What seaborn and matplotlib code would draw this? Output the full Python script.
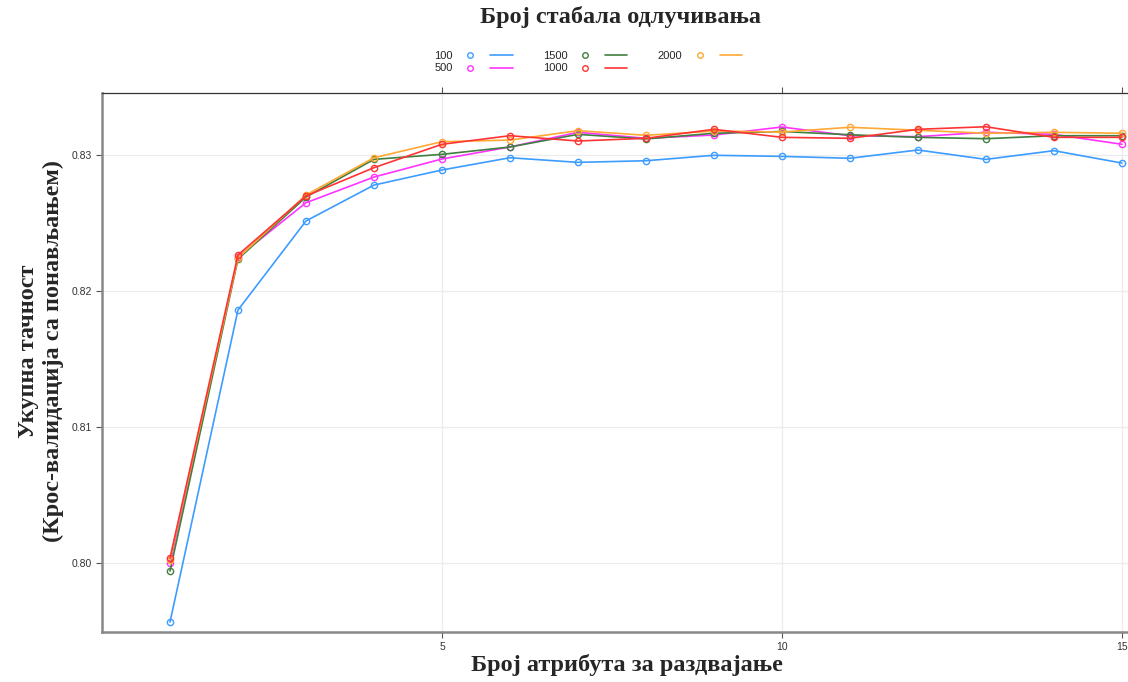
import numpy as np
import pandas as pd
import matplotlib
matplotlib.use("Agg")
import matplotlib.pyplot as plt
import seaborn as sns
from matplotlib.lines import Line2D
from matplotlib.legend_handler import HandlerTuple

# ---- data ----
mtry = list(range(1, 16))
series_names = ["100", "500", "1500", "1000", "2000"]
acc_100 = [0.79566, 0.81860, 0.82515, 0.82779, 0.82890, 0.82980, 0.82946, 0.82958,
           0.82998, 0.82990, 0.82976, 0.83037, 0.82968, 0.83032, 0.82941]
acc_500 = [0.80000, 0.82250, 0.82649, 0.82838, 0.82971, 0.83059, 0.83167, 0.83123,
           0.83147, 0.83206, 0.83142, 0.83135, 0.83167, 0.83152, 0.83079]
acc_1500 = [0.79941, 0.82235, 0.82691, 0.82968, 0.83005, 0.83059, 0.83152, 0.83118,
            0.83160, 0.83173, 0.83149, 0.83130, 0.83120, 0.83142, 0.83142]
acc_1000 = [0.80037, 0.82265, 0.82699, 0.82907, 0.83079, 0.83142, 0.83103, 0.83123,
            0.83189, 0.83130, 0.83123, 0.83189, 0.83208, 0.83130, 0.83130]
acc_2000 = [0.80022, 0.82243, 0.82706, 0.82980, 0.83098, 0.83110, 0.83179, 0.83145,
            0.83176, 0.83169, 0.83204, 0.83182, 0.83160, 0.83167, 0.83160]
x_ticks = [5, 10, 15]
y_ticks = [0.80, 0.81, 0.82, 0.83]

colors = {"100": "#3d9cff", "500": "#ff33ff", "1500": "#3f7f3f",
          "1000": "#ff3333", "2000": "#ffa833"}

values = {"100": acc_100, "500": acc_500, "1500": acc_1500,
          "1000": acc_1000, "2000": acc_2000}
df = pd.concat([pd.DataFrame({"mtry": mtry, "acc": values[k], "ntree": k})
                for k in series_names], ignore_index=True)

sns.set_theme(style="white")
plt.rcParams["font.family"] = ["Liberation Sans", "DejaVu Sans"]

fig = plt.figure(figsize=(11.28, 6.82), dpi=100)
ax = fig.add_axes([102 / 1128, 1 - 632 / 682, 1 - 102 / 1128, (632 - 93) / 682])
ax.set_facecolor("white")

sns.lineplot(data=df, x="mtry", y="acc", hue="ntree", palette=colors,
             hue_order=["100", "500", "1500", "2000", "1000"],
             marker="o", markersize=4.5, mfc="none", mew=1.0, lw=1.2,
             legend=False, ax=ax)
for ln in ax.lines:
    ln.set_markeredgecolor(ln.get_color())
    ln.set_markerfacecolor("none")

ax.set_xlim(0, 15.09)
ax.set_ylim(0.79493, 0.83456)
ax.set_xticks(x_ticks)
ax.set_xticklabels([str(t) for t in x_ticks])
ax.set_yticks(y_ticks)
ax.set_yticklabels([f"{t:.2f}" for t in y_ticks])
ax.grid(True, color="#ececec", lw=0.9)
ax.tick_params(axis="both", labelsize=7.5, labelcolor="#333333", color="#555555",
               length=4, width=0.8, direction="out")
ax.tick_params(axis="x", top=True, bottom=True)
ax.tick_params(axis="y", left=True)
ax.set_xlabel("")
ax.set_ylabel("")
for s in ["left", "bottom"]:
    ax.spines[s].set_color("#888888")
    ax.spines[s].set_linewidth(1.8)
ax.spines["top"].set_color("#333333")
ax.spines["top"].set_linewidth(0.9)
ax.spines["right"].set_visible(False)

# legend
handles = []
for k in series_names:
    c = colors[k]
    h = (Line2D([], [], marker="o", mfc="none", mec=c, ls="none", ms=4, mew=1.0),
         Line2D([], [], color=c, lw=1.2))
    handles.append(h)
fig.legend(handles, series_names, loc="center", bbox_to_anchor=(588 / 1128, 1 - 62 / 682),
           ncol=3, frameon=False, markerfirst=False, fontsize=8,
           handler_map={tuple: HandlerTuple(ndivide=None, pad=0.8)},
           handlelength=4.8, handletextpad=0.6, columnspacing=2.7,
           labelspacing=0.25, borderpad=0.2)

serif = ["Liberation Serif", "DejaVu Serif"]
fig.text(621 / 1128, 1 - 17 / 682, "Број стабала одлучивања", ha="center", va="center",
         fontsize=17.5, fontweight="bold", family=serif)
fig.text(627 / 1128, 1 - 665 / 682, "Број атрибута за раздвајање", ha="center", va="center",
         fontsize=17.5, fontweight="bold", family=serif)
fig.text(41 / 1128, 1 - 351 / 682, "Укупна тачност\n(Крос-валидација са понављањем)",
         ha="center", va="center", rotation=90, multialignment="center",
         fontsize=17.5, fontweight="bold", family=serif, linespacing=1.2)

fig.savefig("out.png", dpi=100, facecolor="white")
